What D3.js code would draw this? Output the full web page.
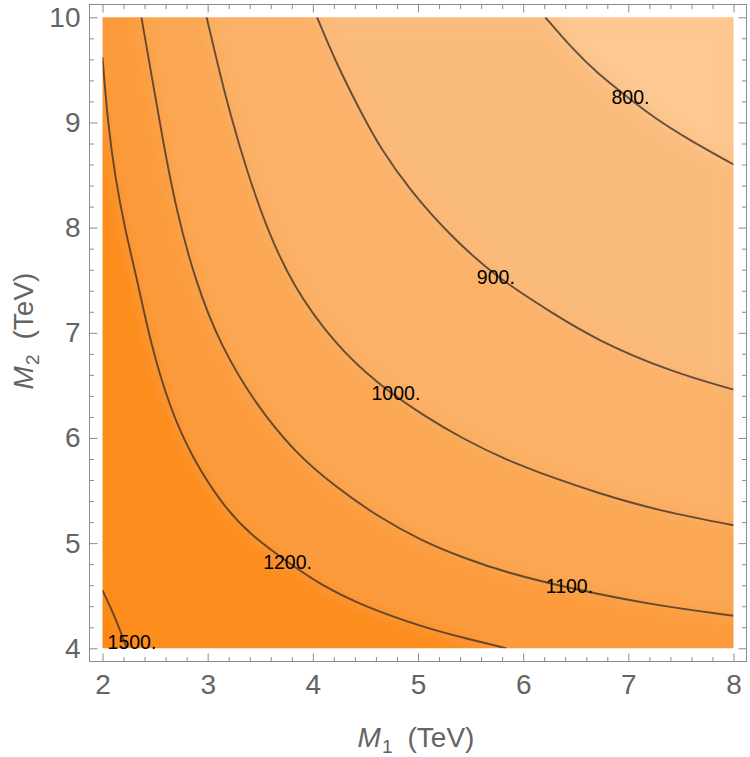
<!DOCTYPE html>
<html>
<head>
<meta charset="utf-8">
<script src="https://cdn.jsdelivr.net/npm/d3@7"></script>
<style>
  html, body { margin: 0; padding: 0; background: #fff; }
  svg { display: block; font-family: "Liberation Sans", Arial, sans-serif; }
</style>
</head>
<body>
<svg id="chart" width="750" height="757"></svg>
<script>
// ---- data ----
const xDomain = [2, 8];
const yDomain = [4, 10];
const xMajorTicks = [2, 3, 4, 5, 6, 7, 8];
const yMajorTicks = [4, 5, 6, 7, 8, 9, 10];
const xTitle = ["M", "1", "(TeV)"];
const yTitle = ["M", "2", "(TeV)"];

// contour levels (high to low) and their lines as [M1, M2] points
const levels = [1500, 1200, 1100, 1000, 900, 800];
const c1500 = [[2.0, 4.55], [2.12, 4.30], [2.23, 4.0]];
const c1200 = [[2.0, 9.62], [2.05, 9.0], [2.12, 8.48], [2.21, 8.0], [2.34, 7.46], [2.45, 6.93],
               [2.64, 6.28], [2.86, 5.80], [3.13, 5.38], [3.39, 5.09], [3.76, 4.82], [4.08, 4.60],
               [4.46, 4.41], [5.05, 4.20], [5.43, 4.10], [5.84, 4.0]];
const c1100 = [[2.37, 10.0], [2.47, 9.43], [2.57, 8.85], [2.70, 8.17], [2.88, 7.50], [3.12, 6.88],
               [3.45, 6.33], [3.83, 5.86], [4.21, 5.54], [4.62, 5.25], [5.04, 5.02], [5.43, 4.86],
               [5.84, 4.72], [6.44, 4.57], [7.24, 4.41], [8.0, 4.31]];
const c1000 = [[2.99, 10.0], [3.10, 9.53], [3.22, 9.06], [3.36, 8.58], [3.55, 8.02], [3.81, 7.44],
               [4.22, 6.88], [4.61, 6.52], [5.04, 6.22], [5.43, 5.99], [5.84, 5.79], [6.29, 5.62],
               [6.70, 5.48], [7.24, 5.32], [8.0, 5.17]];
const c900 = [[4.04, 10.0], [4.21, 9.59], [4.46, 9.09], [4.64, 8.76], [4.92, 8.36], [5.30, 7.93],
              [5.74, 7.53], [6.29, 7.18], [6.70, 6.93], [7.40, 6.63], [8.0, 6.46]];
const c800 = [[6.21, 10.0], [6.45, 9.72], [6.70, 9.47], [7.02, 9.22], [7.24, 9.05], [7.55, 8.85], [8.0, 8.60]];
const contourLines = [c1500, c1200, c1100, c1000, c900, c800];

// label positions [M1, M2] and texts
const labelTexts = ["1500.", "1200.", "1100.", "1000.", "900.", "800."];
const labelPos = [[2.28, 4.06], [3.76, 4.82], [6.44, 4.59], [4.79, 6.43], [5.74, 7.53], [7.02, 9.24]];

// band colours: above highest level, then below each level
const bandColors = ["#fd8818", "#fd8d1f", "#fc9b3c", "#fba753", "#fbb168", "#fbbb7d", "#fdc892"];

// ---- drawing ----
const svg = d3.select("#chart");
const x = d3.scaleLinear().domain(xDomain).range([102.5, 733.5]);
const y = d3.scaleLinear().domain(yDomain).range([648.3, 17.3]);
const frame = { l: 89.5, r: 746.5, t: 4.5, b: 661.5 };

const defs = svg.append("defs");
defs.append("clipPath").attr("id", "plotclip")
  .append("rect").attr("x", x(2)).attr("y", y(10))
  .attr("width", x(8) - x(2)).attr("height", y(4) - y(10));
const filt = defs.append("filter").attr("id", "soft")
  .attr("filterUnits", "userSpaceOnUse")
  .attr("x", x(2)).attr("y", y(10)).attr("width", x(8) - x(2)).attr("height", y(4) - y(10));
filt.append("feGaussianBlur").attr("stdDeviation", 9).attr("result", "b");
const ct = filt.append("feComponentTransfer").attr("in", "b");
ct.append("feFuncA").attr("type", "table").attr("tableValues", "1 1");

const plotG = svg.append("g").attr("clip-path", "url(#plotclip)");
const fillG = plotG.append("g").attr("filter", "url(#soft)");
fillG.append("rect")
  .attr("x", x(2)).attr("y", y(10))
  .attr("width", x(8) - x(2)).attr("height", y(4) - y(10))
  .attr("fill", bandColors[0]);

function regionEdge(line) {
  const pts = [];
  const s = line[0], e = line[line.length - 1];
  if (Math.abs(e[1] - yDomain[0]) < 1e-6) pts.push([xDomain[1], yDomain[0]]);
  pts.push([xDomain[1], yDomain[1]]);
  if (Math.abs(s[0] - xDomain[0]) < 1e-6) pts.push([xDomain[0], yDomain[1]]);
  return pts;
}
const lineGen = d3.line().x(d => x(d[0])).y(d => y(d[1])).curve(d3.curveBasis);

contourLines.forEach((ln, i) => {
  const edge = regionEdge(ln);
  const path = lineGen(ln) + edge.map(p => "L" + x(p[0]) + "," + y(p[1])).join("") + "Z";
  fillG.append("path").attr("d", path).attr("fill", bandColors[i + 1]);
});

contourLines.forEach(ln => {
  plotG.append("path").attr("d", lineGen(ln))
    .attr("fill", "none").attr("stroke", "#3b3128").attr("stroke-opacity", 0.78)
    .attr("stroke-width", 1.9);
});

labelTexts.forEach((t, i) => {
  svg.append("text").attr("x", x(labelPos[i][0])).attr("y", y(labelPos[i][1]))
    .attr("text-anchor", "middle").attr("dominant-baseline", "central")
    .attr("font-size", 19.5).attr("fill", "#000").text(t);
});

// frame
svg.append("rect").attr("x", frame.l).attr("y", frame.t)
  .attr("width", frame.r - frame.l).attr("height", frame.b - frame.t)
  .attr("fill", "none").attr("stroke", "#8c8c8c").attr("stroke-width", 1);

const minorX = d3.range(20, 81, 2).map(v => v / 10).filter(v => !xMajorTicks.includes(v));
const minorY = d3.range(40, 101, 2).map(v => v / 10).filter(v => !yMajorTicks.includes(v));

function styleAxis(g) {
  g.select(".domain").remove();
  g.selectAll(".tick line").attr("stroke", "#8c8c8c");
  g.selectAll(".tick text").attr("fill", "#646464").attr("font-size", 28)
    .attr("font-family", "'Liberation Sans', Arial, sans-serif");
}
// bottom
svg.append("g").attr("transform", `translate(0,${frame.b})`)
  .call(d3.axisBottom(x).tickValues(xMajorTicks).tickSize(-8).tickPadding(13).tickFormat(d3.format("d")))
  .call(styleAxis);
svg.append("g").attr("transform", `translate(0,${frame.b})`)
  .call(d3.axisBottom(x).tickValues(minorX).tickSize(-4.5).tickFormat(""))
  .call(styleAxis);
// top
svg.append("g").attr("transform", `translate(0,${frame.t})`)
  .call(d3.axisTop(x).tickValues(xMajorTicks).tickSize(-8).tickFormat(""))
  .call(styleAxis);
svg.append("g").attr("transform", `translate(0,${frame.t})`)
  .call(d3.axisTop(x).tickValues(minorX).tickSize(-4.5).tickFormat(""))
  .call(styleAxis);
// left
svg.append("g").attr("transform", `translate(${frame.l},0)`)
  .call(d3.axisLeft(y).tickValues(yMajorTicks).tickSize(-8).tickPadding(9).tickFormat(d3.format("d")))
  .call(styleAxis);
svg.append("g").attr("transform", `translate(${frame.l},0)`)
  .call(d3.axisLeft(y).tickValues(minorY).tickSize(-4.5).tickFormat(""))
  .call(styleAxis);
// right
svg.append("g").attr("transform", `translate(${frame.r},0)`)
  .call(d3.axisRight(y).tickValues(yMajorTicks).tickSize(-8).tickFormat(""))
  .call(styleAxis);
svg.append("g").attr("transform", `translate(${frame.r},0)`)
  .call(d3.axisRight(y).tickValues(minorY).tickSize(-4.5).tickFormat(""))
  .call(styleAxis);

// axis titles
function title(parts, attrs) {
  const t = svg.append("text").attr("fill", "#646464").attr("font-size", 28).attr("text-anchor", "middle");
  Object.entries(attrs).forEach(([k, v]) => t.attr(k, v));
  t.append("tspan").attr("font-style", "italic").text(parts[0]);
  t.append("tspan").attr("font-size", 19).attr("dy", 6).attr("dx", 1).text(parts[1]);
  t.append("tspan").attr("dy", -6).attr("dx", 15).text(parts[2]);
  return t;
}
title(xTitle, { x: 416, y: 747 });
title(yTitle, { transform: "translate(33,331) rotate(-90)" });
</script>
</body>
</html>
